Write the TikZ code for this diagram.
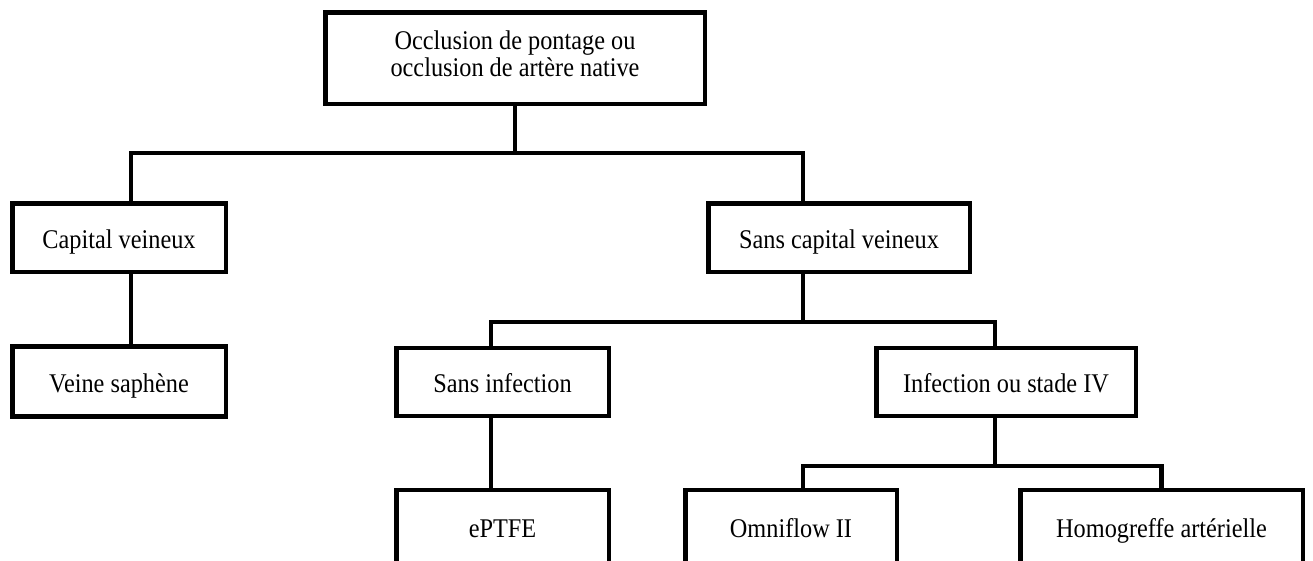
\documentclass[tikz,border=0pt]{standalone}
\usepackage{fontspec}
\setmainfont{Liberation Serif}[FakeStretch=0.9]
\usepackage{tikz}

\begin{document}
\begin{tikzpicture}[x=1pt,y=-1pt]
\fontsize{27}{27}\selectfont
\tikzstyle{every node}+=[inner sep=0pt]
\tikzstyle{boite}=[draw=black, line width=4.5pt, rectangle, align=center]
\tikzstyle{cadre}=[boite, text height=22pt, text depth=1pt]
\tikzstyle{lien}=[draw=black, line width=4.5pt, line join=miter]
\useasboundingbox (0,0) rectangle (1313,560);
\clip (0,0) rectangle (1313,560);
\node [boite, minimum width=379.5pt, minimum height=91.5pt] (occl) at (515,58) {\raisebox{6pt}{\begin{tabular}{c} Occlusion de pontage ou \\ occlusion de artère native \end{tabular}}};
\node [cadre, minimum width=213.5pt, minimum height=68.5pt] (capv) at (119,237.5) {Capital veineux};
\node [cadre, minimum width=261.5pt, minimum height=68.5pt] (sanscap) at (839,237.5) {Sans capital veineux};
\node [cadre, minimum width=213.5pt, minimum height=70pt] (veine) at (119,381.5) {Veine saphène};
\node [cadre, minimum width=212.5pt, minimum height=68pt] (sansinf) at (502.5,382) {Sans infection};
\node [cadre, minimum width=259.5pt, minimum height=68pt] (infect) at (1006,382) {Infection ou stade IV};
\node [cadre, minimum width=212.5pt, minimum height=74pt] (eptfe) at (502.5,527) {ePTFE};
\node [cadre, minimum width=211.5pt, minimum height=74pt] (omni) at (791,527) {Omniflow II};
\node [cadre, minimum width=282.5pt, minimum height=74pt] (homo) at (1161.5,527) {Homogreffe artérielle};
\coordinate (r1) at (0,153);
\coordinate (r2) at (0,322);
\coordinate (r3) at (0,466);
\coordinate (capT) at ([xshift=12pt]capv.north);
\coordinate (capB) at ([xshift=12pt]capv.south);
\coordinate (scvT) at ([xshift=-36pt]sanscap.north);
\coordinate (scvB) at ([xshift=-36pt]sanscap.south);
\coordinate (sinfT) at ([xshift=-11.5pt]sansinf.north);
\coordinate (sinfB) at ([xshift=-11.5pt]sansinf.south);
\coordinate (infT) at ([xshift=-11pt]infect.north);
\coordinate (infB) at ([xshift=-11pt]infect.south);
\coordinate (omniT) at ([xshift=12pt]omni.north);
\draw [lien] (occl.south) -- (occl.south |- r1);
\draw [lien] (capT) -- (capT |- r1) -- (scvT |- r1) -- (scvT);
\draw [lien] (capB) -- (capB |- veine.north);
\draw [lien] (scvB) -- (scvB |- r2);
\draw [lien] (sinfT) -- (sinfT |- r2) -- (infT |- r2) -- (infT);
\draw [lien] (sinfB) -- (sinfB |- eptfe.north);
\draw [lien] (infB) -- (infB |- r3);
\draw [lien] (omniT) -- (omniT |- r3) -- (homo.north |- r3) -- (homo.north);
\end{tikzpicture}
\end{document}
